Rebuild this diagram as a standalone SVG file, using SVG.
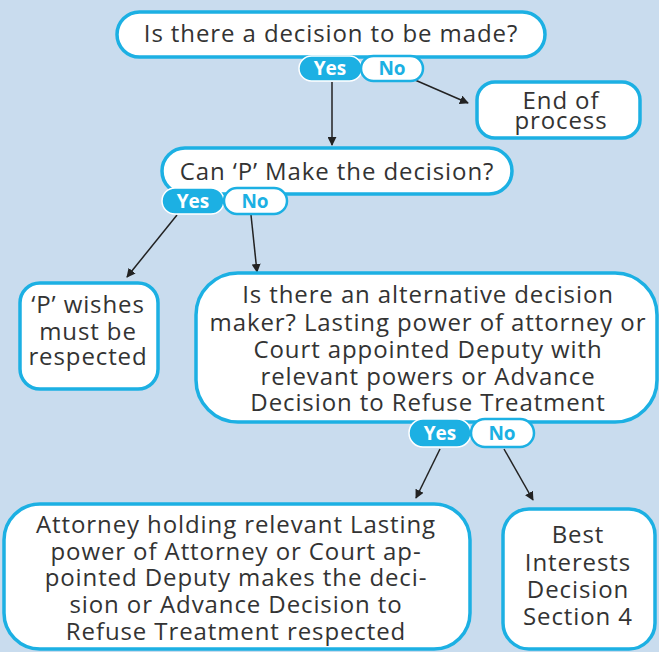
<svg xmlns="http://www.w3.org/2000/svg" width="659" height="652" viewBox="0 0 659 652">
<defs>
<style>
.box{fill:#ffffff;stroke:#1cb0e3;stroke-width:3.5}
.t{font-family:"Open Sans","Noto Sans",sans-serif;font-size:24px;letter-spacing:0.9px;fill:#333333;text-anchor:middle}
.yes{fill:#1cb0e3;stroke:#ffffff;stroke-width:1.5}
.no{fill:#ffffff;stroke:#1cb0e3;stroke-width:2.5}
.yt{font-family:"Open Sans","Noto Sans",sans-serif;font-size:19px;font-weight:bold;fill:#ffffff;text-anchor:middle}
.nt{font-family:"Open Sans","Noto Sans",sans-serif;font-size:19px;font-weight:bold;fill:#1cb0e3;text-anchor:middle}
.c{stroke:#222222;stroke-width:1.5;fill:none;marker-end:url(#ah)}
</style>
<marker id="ah" viewBox="0 0 10 10" refX="9" refY="5" markerWidth="9" markerHeight="9" markerUnits="userSpaceOnUse" orient="auto">
<path d="M0,0 L10,5 L0,10 z" fill="#222222"/>
</marker>
</defs>
<rect width="659" height="652" fill="#c9dcee"/>
<g id="connectors">
<line class="c" x1="332" y1="82" x2="332" y2="145"/>
<line class="c" x1="415" y1="80" x2="468" y2="103"/>
<line class="c" x1="177" y1="215" x2="127" y2="277"/>
<line class="c" x1="251" y1="215" x2="257" y2="272"/>
<line class="c" x1="440" y1="449" x2="416" y2="498"/>
<line class="c" x1="504" y1="449" x2="533" y2="500"/>
</g>
<g id="q1">
<rect class="box" x="117" y="12" width="428" height="45" rx="22.5"/>
<text class="t" x="331" y="42">Is there a decision to be made?</text>
</g>
<g id="q1-yes">
<rect class="yes" x="299" y="56" width="63" height="25" rx="12.5"/>
<text class="yt" x="330" y="75">Yes</text>
</g>
<g id="q1-no">
<rect class="no" x="361" y="56" width="62" height="25" rx="12.5"/>
<text class="nt" x="392" y="75">No</text>
</g>
<g id="end">
<rect class="box" x="477" y="82" width="163" height="56" rx="18"/>
<text class="t" x="561" y="109">End of</text>
<text class="t" x="561" y="129">process</text>
</g>
<g id="q2">
<rect class="box" x="162" y="148" width="350" height="46" rx="23"/>
<text class="t" x="337" y="180">Can ‘P’ Make the decision?</text>
</g>
<g id="q2-yes">
<rect class="yes" x="162" y="188" width="62" height="26" rx="13"/>
<text class="yt" x="193" y="208">Yes</text>
</g>
<g id="q2-no">
<rect class="no" x="224" y="188" width="63" height="26" rx="13"/>
<text class="nt" x="255" y="208">No</text>
</g>
<g id="wishes">
<rect class="box" x="20" y="283" width="138" height="106" rx="20"/>
<text class="t" x="88" y="313">‘P’ wishes</text>
<text class="t" x="88" y="340">must be</text>
<text class="t" x="88" y="365">respected</text>
</g>
<g id="q3">
<rect class="box" x="196" y="273" width="461" height="149" rx="42"/>
<text class="t" x="428" y="303">Is there an alternative decision</text>
<text class="t" x="428" y="331">maker? Lasting power of attorney or</text>
<text class="t" x="428" y="358">Court appointed Deputy with</text>
<text class="t" x="428" y="385">relevant powers or Advance</text>
<text class="t" x="428" y="411">Decision to Refuse Treatment</text>
</g>
<g id="q3-yes">
<rect class="yes" x="409" y="419" width="62" height="28" rx="14"/>
<text class="yt" x="440" y="440">Yes</text>
</g>
<g id="q3-no">
<rect class="no" x="471" y="419" width="63" height="28" rx="14"/>
<text class="nt" x="502" y="440">No</text>
</g>
<g id="attorney">
<rect class="box" x="4" y="504" width="466" height="145" rx="36"/>
<text class="t" x="236" y="533">Attorney holding relevant Lasting</text>
<text class="t" x="236" y="560">power of Attorney or Court ap-</text>
<text class="t" x="236" y="586">pointed Deputy makes the deci-</text>
<text class="t" x="236" y="613">sion or Advance Decision to</text>
<text class="t" x="236" y="640">Refuse Treatment respected</text>
</g>
<g id="best">
<rect class="box" x="503" y="509" width="152" height="140" rx="26"/>
<text class="t" x="578" y="543">Best</text>
<text class="t" x="578" y="571">Interests</text>
<text class="t" x="578" y="598">Decision</text>
<text class="t" x="578" y="625">Section 4</text>
</g>
</svg>
